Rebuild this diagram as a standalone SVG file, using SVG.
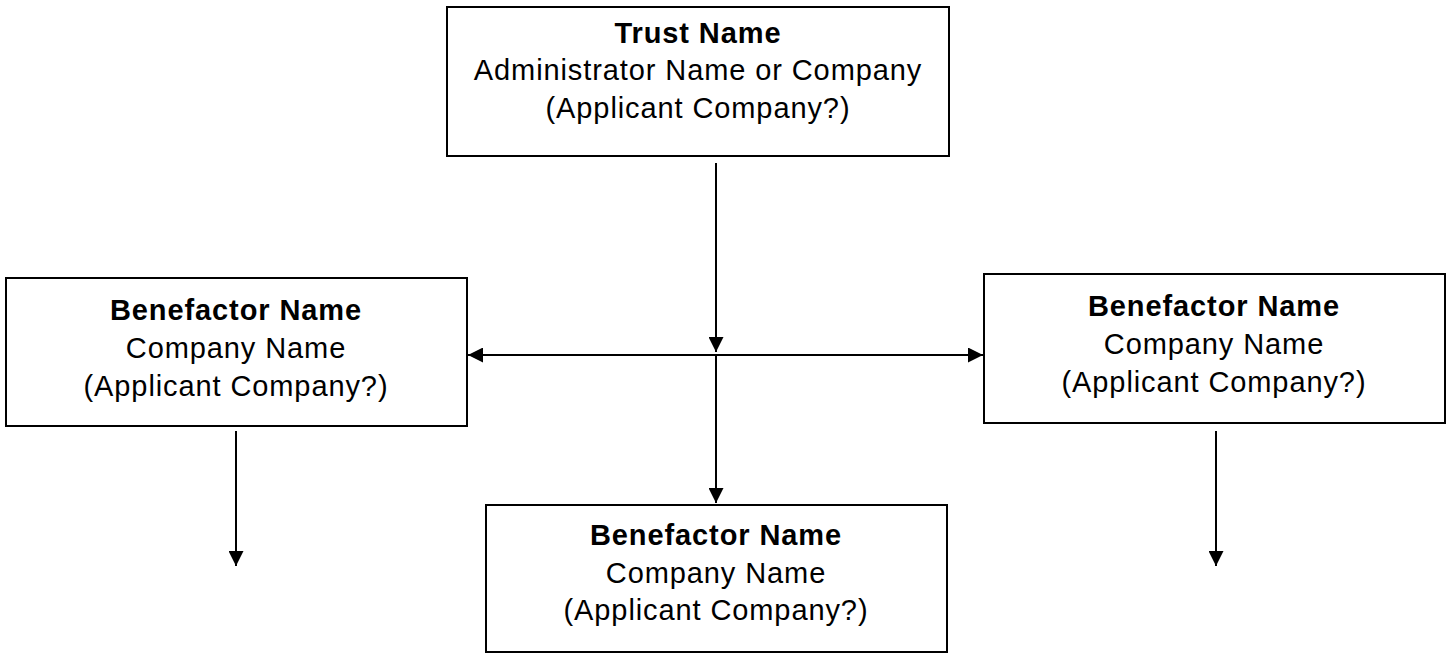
<svg xmlns="http://www.w3.org/2000/svg" width="1452" height="654" viewBox="0 0 1452 654">
  <style>
    .box { fill: #ffffff; stroke: #000000; stroke-width: 2; }
    .lbl { font-family: "Liberation Sans", Arial, sans-serif; font-size: 29px; letter-spacing: 0.9px; fill: #000000; text-anchor: middle; }
    .b { font-weight: bold; }
    .wire { stroke: #000000; stroke-width: 2; fill: none; }
  </style>
  <defs>
    <marker id="arrow" viewBox="0 0 10 10" refX="10" refY="5" markerWidth="8" markerHeight="7.5" markerUnits="strokeWidth" orient="auto-start-reverse">
      <path d="M0,0 L10,5 L0,10 Z" fill="#000000"/>
    </marker>
  </defs>

  <rect width="1452" height="654" fill="#ffffff"/>

  <g id="trust">
    <rect class="box" x="447" y="7" width="502" height="149"/>
    <text class="lbl b" x="698" y="43">Trust Name</text>
    <text class="lbl" x="698" y="80">Administrator Name or Company</text>
    <text class="lbl" x="698" y="118">(Applicant Company?)</text>
  </g>

  <g id="benefactor-left">
    <rect class="box" x="6" y="278" width="461" height="148"/>
    <text class="lbl b" x="236" y="320">Benefactor Name</text>
    <text class="lbl" x="236" y="358">Company Name</text>
    <text class="lbl" x="236" y="396">(Applicant Company?)</text>
  </g>

  <g id="benefactor-right">
    <rect class="box" x="984" y="274" width="461" height="149"/>
    <text class="lbl b" x="1214" y="316">Benefactor Name</text>
    <text class="lbl" x="1214" y="354">Company Name</text>
    <text class="lbl" x="1214" y="392">(Applicant Company?)</text>
  </g>

  <g id="benefactor-bottom">
    <rect class="box" x="486" y="505" width="461" height="147"/>
    <text class="lbl b" x="716" y="545">Benefactor Name</text>
    <text class="lbl" x="716" y="583">Company Name</text>
    <text class="lbl" x="716" y="620">(Applicant Company?)</text>
  </g>

  <g id="connectors">
    <line class="wire" x1="716" y1="163" x2="716" y2="352" marker-end="url(#arrow)"/>
    <line class="wire" x1="468" y1="355" x2="983" y2="355" marker-start="url(#arrow)" marker-end="url(#arrow)"/>
    <line class="wire" x1="716" y1="355" x2="716" y2="503" marker-end="url(#arrow)"/>
    <line class="wire" x1="236" y1="431" x2="236" y2="566" marker-end="url(#arrow)"/>
    <line class="wire" x1="1216" y1="431" x2="1216" y2="566" marker-end="url(#arrow)"/>
  </g>
</svg>
